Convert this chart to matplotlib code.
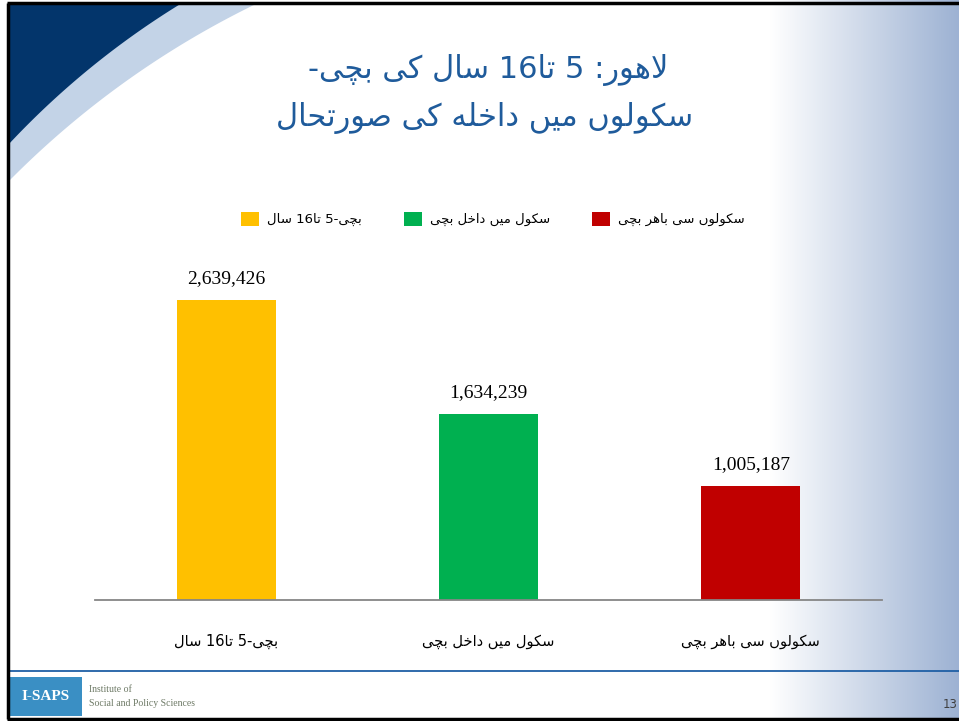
import re
import numpy as np
import matplotlib
matplotlib.use('Agg')
import matplotlib.pyplot as plt
from matplotlib.patches import Rectangle, Polygon, Patch

# chart data
categories = ["بچے-5 تا16 سال", "سکول میں داخل بچے", "سکولوں سے باہر بچے"]
values = [2639426, 1634239, 1005187]
bar_colors = ["#FFC000", "#00B050", "#C00000"]
title_lines = ["لاہور: 5 تا16 سال کے بچے-", "سکولوں میں داخلہ کی صورتحال"]
page_number = "13"
logo_lines = ["Institute of", "Social and Policy Sciences"]

W, H = 959, 721

# presentation forms: (isolated, final, initial, medial)
# DejaVu Sans has no heh goal / yeh barree forms, so the nearest naskh forms are used
FORMS = {
    "ا": ("\uFE8D", "\uFE8E", None, None),
    "ب": ("\uFE8F", "\uFE90", "\uFE91", "\uFE92"),
    "ت": ("\uFE95", "\uFE96", "\uFE97", "\uFE98"),
    "چ": ("\uFB7A", "\uFB7B", "\uFB7C", "\uFB7D"),
    "ح": ("\uFEA1", "\uFEA2", "\uFEA3", "\uFEA4"),
    "خ": ("\uFEA5", "\uFEA6", "\uFEA7", "\uFEA8"),
    "د": ("\uFEA9", "\uFEAA", None, None),
    "ر": ("\uFEAD", "\uFEAE", None, None),
    "س": ("\uFEB1", "\uFEB2", "\uFEB3", "\uFEB4"),
    "ص": ("\uFEB9", "\uFEBA", "\uFEBB", "\uFEBC"),
    "ک": ("\uFB8E", "\uFB8F", "\uFB90", "\uFB91"),
    "ل": ("\uFEDD", "\uFEDE", "\uFEDF", "\uFEE0"),
    "م": ("\uFEE1", "\uFEE2", "\uFEE3", "\uFEE4"),
    "و": ("\uFEED", "\uFEEE", None, None),
    "ں": ("\uFB9E", "\uFB9F", None, None),
    "ہ": ("\uFEE9", "\uFEEA", "\uFEEB", "\uFEEC"),
    "ی": ("\uFBFC", "\uFBFD", "\uFBFE", "\uFBFF"),
    "ے": ("\uFEEF", "\uFEF0", None, None),
}


def joins_forward(c):
    return c in FORMS and FORMS[c][2] is not None


def shape(text):
    out = []
    i = 0
    while i < len(text):
        c = text[i]
        if c not in FORMS:
            out.append(c)
            i += 1
            continue
        prev = text[i - 1] if i > 0 else ""
        jp = joins_forward(prev)
        nxt = text[i + 1] if i + 1 < len(text) else ""
        if c == "ل" and nxt == "ا":
            out.append("\uFEFC" if jp else "\uFEFB")
            i += 2
            continue
        jn = joins_forward(c) and nxt in FORMS
        iso, fin, ini, med = FORMS[c]
        if jp and jn:
            out.append(med)
        elif jp:
            out.append(fin)
        elif jn:
            out.append(ini)
        else:
            out.append(iso)
        i += 1
    return "".join(out)


def rtl(text):
    # right to left line, digit runs kept left to right
    vis = shape(text)[::-1]
    return re.sub(r"[0-9]+", lambda m: m.group()[::-1], vis)


def px(x, y):
    return x / W, 1 - y / H


def arc(p1, p2, r, n=60):
    p1, p2 = np.array(p1, float), np.array(p2, float)
    mid = (p1 + p2) / 2
    d = p2 - p1
    half = np.linalg.norm(d) / 2
    perp = np.array([-d[1], d[0]]) / np.linalg.norm(d)
    if perp[0] < 0:
        perp = -perp
    c = mid + perp * np.sqrt(r ** 2 - half ** 2)
    a1 = np.arctan2(*(p1 - c)[::-1])
    a2 = np.arctan2(*(p2 - c)[::-1])
    a = np.linspace(a1, a2, n)
    return np.column_stack([c[0] + r * np.cos(a), c[1] + r * np.sin(a)])


plt.rcParams['font.family'] = ['DejaVu Sans']

fig = plt.figure(figsize=(W / 100, H / 100), dpi=100)
fig.patch.set_facecolor("white")

# slide background
bg = fig.add_axes([0, 0, 1, 1], zorder=0)
bg.set_xlim(0, W)
bg.set_ylim(H, 0)
bg.axis("off")

grad = np.linspace(0, 1, 200)
c0 = np.array([1.0, 1.0, 1.0])
c1 = np.array([157, 178, 211]) / 255
img = (c0[None, :] * (1 - grad[:, None]) + c1[None, :] * grad[:, None])[None, :, :]
bg.imshow(img, extent=[770, W, H, 0], aspect="auto", zorder=0)

light = np.vstack([[[8, 3], [258, 3]], arc((258, 3), (8, 182), 900), [[8, 182]]])
bg.add_patch(Polygon(light, closed=True, facecolor="#C3D3E7", edgecolor="none", zorder=1))
navy = np.vstack([[[8, 3], [182, 3]], arc((182, 3), (8, 145), 830), [[8, 145]]])
bg.add_patch(Polygon(navy, closed=True, facecolor="#03356B", edgecolor="none", zorder=2))

bg.plot([8, W], [671, 671], color="#1F5FA5", lw=1.3, zorder=3)
bg.plot([8, 8], [3, 719], color="black", lw=2.5, zorder=4, solid_capstyle="butt")
bg.plot([7, W], [3, 3], color="black", lw=2.5, zorder=4, solid_capstyle="butt")
bg.plot([7, W], [719, 719], color="black", lw=2.5, zorder=4, solid_capstyle="butt")

# logo
bg.add_patch(Rectangle((10, 677), 72, 39, facecolor="#3A8FC4", edgecolor="none", zorder=3))
bg.text(46, 697, "I-SAPS", color="white", fontsize=11, fontweight="bold",
        family="Liberation Serif", ha="center", va="center", zorder=4)
bg.text(89, 689, logo_lines[0], color="#6E7A66", fontsize=7, family="Liberation Serif",
        va="center", zorder=4)
bg.text(89, 704, logo_lines[1], color="#6E7A66", fontsize=7, family="Liberation Serif",
        va="center", zorder=4)
bg.text(950, 704, page_number, color="#404040", fontsize=8.5, ha="center", va="center",
        zorder=4)

# title
title_color = "#1F5B9B"
fig.text(*px(488, 70), rtl(title_lines[0]), color=title_color, fontsize=22,
         ha="center", va="center")
fig.text(*px(485, 118), rtl(title_lines[1]), color=title_color, fontsize=22,
         ha="center", va="center")

# bar chart
ax = fig.add_axes([95 / W, (H - 600) / H, 787 / W, 341 / H], zorder=2)
ax.patch.set_alpha(0)
x = np.arange(len(values))
ax.bar(x, values, width=0.377, color=bar_colors)
ax.set_xlim(-0.5, len(values) - 0.5)
ax.set_ylim(0, 3000000)
for s in ["top", "left", "right"]:
    ax.spines[s].set_visible(False)
ax.spines["bottom"].set_color("#868686")
ax.spines["bottom"].set_linewidth(1.3)
ax.set_yticks([])
ax.set_xticks([])

for i, v in enumerate(values):
    ax.annotate(f"{v:,}", (i, v), xytext=(0, 12), textcoords="offset points",
                ha="center", va="baseline", fontsize=14, family="Liberation Serif",
                color="black")
    ax.annotate(rtl(categories[i]), (i, 0), xytext=(0, -30),
                textcoords="offset points", ha="center", va="center", fontsize=10.5,
                color="black")

handles = [Patch(facecolor=c, edgecolor="none") for c in bar_colors]
fig.legend(handles, [rtl(c) for c in categories], loc="center",
           bbox_to_anchor=px(493, 219), ncol=3, frameon=False, fontsize=9.5,
           handlelength=1.35, handleheight=1.35, handletextpad=0.6,
           columnspacing=3.2)

fig.savefig("out.png", dpi=100)
